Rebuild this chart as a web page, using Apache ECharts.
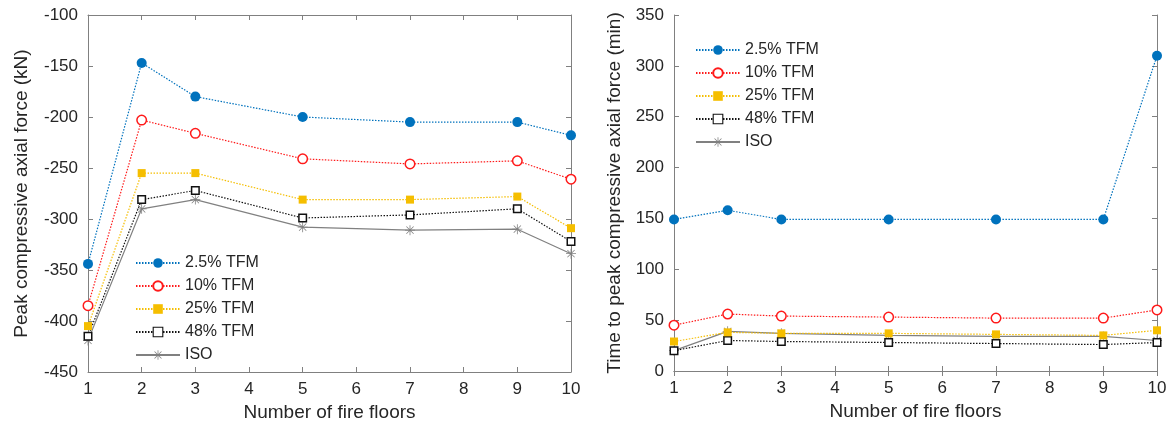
<!DOCTYPE html>
<html>
<head>
<meta charset="utf-8">
<script src="https://cdn.jsdelivr.net/npm/echarts@6/dist/echarts.min.js"></script>
<style>
  html, body { margin: 0; padding: 0; background: #fff; }
  #chart { width: 1171px; height: 429px; }
</style>
</head>
<body>
<div id="chart"></div>
<script>
// Number of fire floors (x positions shared by both panels)
const floors = [1, 2, 3, 5, 7, 9, 10];
const seriesNames = ['2.5% TFM', '10% TFM', '25% TFM', '48% TFM', 'ISO'];

// Peak compressive axial force (kN)
const force_2_5 = [-344, -147, -180, -200, -205, -205, -218];
const force_10  = [-385, -203, -216, -241, -246, -243, -261];
const force_25  = [-405, -255, -255, -281, -281, -278, -309];
const force_48  = [-415, -281, -272, -299, -296, -290, -322];
const force_iso = [-419, -290, -281, -308, -311, -310, -334];

// Time to peak compressive axial force (min)
const time_2_5 = [149, 158, 149, 149, 149, 149, 310];
const time_10  = [45, 56, 54, 53, 52, 52, 60];
const time_25  = [29, 38, 37, 37, 36, 35, 40];
const time_48  = [20, 30, 29, 28, 27, 26, 28];
const time_iso = [20, 39, 37, 35, 34, 34, 30];

const xTicks = [1, 2, 3, 4, 5, 6, 7, 8, 9, 10];
const forceTicks = [-450, -400, -350, -300, -250, -200, -150, -100];
const timeTicks = [0, 50, 100, 150, 200, 250, 300, 350];

const FONT = 'Liberation Sans, Arial, Helvetica, sans-serif';
const TEXT = '#262626';
const AXIS = '#808080';

// Asterisk marker drawn as four thin bars
const STAR = 'path://M0 9.2 L20 9.2 L20 10.8 L0 10.8 Z M9.2 0 L10.8 0 L10.8 20 L9.2 20 Z ' +
  'M2.2 3.3 L3.3 2.2 L17.8 16.7 L16.7 17.8 Z M16.7 2.2 L17.8 3.3 L3.3 17.8 L2.2 16.7 Z';

const styles = [
  { color: '#0072BD', symbol: 'circle', size: 10, fill: '#0072BD', border: 0, dash: [1.5, 1.5] },
  { color: '#FF1A1A', symbol: 'circle', size: 9.5, fill: '#ffffff', border: 1.5, dash: [1.5, 1.5] },
  { color: '#F5BE00', symbol: 'rect', size: 8, fill: '#F5BE00', border: 0, dash: [1.5, 1.5] },
  { color: '#111111', symbol: 'rect', size: 7.5, fill: '#ffffff', border: 1.5, dash: [1.5, 1.5] },
  { color: '#808080', symbol: STAR, size: 10, fill: '#808080', border: 0, dash: 'solid' }
];

function pairs(ys) { return floors.map((x, i) => [x, ys[i]]); }

function makeSeries(values, gridIdx) {
  return values.map((ys, k) => {
    const s = styles[k];
    return {
      name: seriesNames[k],
      type: 'line',
      xAxisIndex: gridIdx * 2,
      yAxisIndex: gridIdx * 2,
      data: pairs(ys),
      symbol: s.symbol,
      symbolSize: s.size,
      showAllSymbol: true,
      lineStyle: { color: s.color, width: 1.2, type: s.dash },
      itemStyle: { color: s.fill, borderColor: s.color, borderWidth: s.border },
      emphasis: { disabled: true },
      z: 10 - k
    };
  });
}

function xAxes(gridIdx) {
  const base = {
    type: 'value', gridIndex: gridIdx, min: 1, max: 10, interval: 1,
    axisLine: { show: true, lineStyle: { color: AXIS, width: 1 } },
    axisTick: { show: true, inside: true, length: 5, lineStyle: { color: AXIS } },
    splitLine: { show: false }
  };
  return [
    Object.assign({}, base, {
      position: 'bottom',
      name: 'Number of fire floors',
      nameLocation: 'middle',
      nameGap: 31,
      nameTextStyle: { fontFamily: FONT, fontSize: 19, color: TEXT },
      axisLabel: { fontFamily: FONT, fontSize: 17, color: TEXT, margin: 9,
        formatter: v => xTicks.includes(v) ? String(v) : '' }
    }),
    Object.assign({}, base, { position: 'top', axisLabel: { show: false } })
  ];
}

function yAxes(gridIdx, min, max, ticks, name, gap) {
  const base = {
    type: 'value', gridIndex: gridIdx, min: min, max: max, interval: 50,
    axisLine: { show: true, lineStyle: { color: AXIS, width: 1 } },
    axisTick: { show: true, inside: true, length: 5, lineStyle: { color: AXIS } },
    splitLine: { show: false }
  };
  return [
    Object.assign({}, base, {
      position: 'left',
      name: name,
      nameLocation: 'middle',
      nameGap: gap,
      nameTextStyle: { fontFamily: FONT, fontSize: 19, color: TEXT },
      axisLabel: { fontFamily: FONT, fontSize: 17, color: TEXT, margin: 10,
        formatter: v => ticks.includes(v) ? String(v) : '' }
    }),
    Object.assign({}, base, { position: 'right', axisLabel: { show: false } })
  ];
}

// Legend entries; the open square gets a lighter outline in the key
const legendData = seriesNames.map((n, k) =>
  k === 3 ? { name: n, itemStyle: { borderWidth: 1.1 } } : { name: n });

const legendBase = {
  orient: 'vertical',
  data: legendData,
  itemWidth: 44,
  itemHeight: 12,
  itemGap: 7,
  textStyle: { fontFamily: FONT, fontSize: 16, color: TEXT },
  selectedMode: false
};

const chart = echarts.init(document.getElementById('chart'), null, { renderer: 'canvas' });
chart.setOption({
  animation: false,
  backgroundColor: '#ffffff',
  grid: [
    { left: 88, top: 15, width: 483, height: 357 },
    { left: 674, top: 15, width: 483, height: 356 }
  ],
  xAxis: [...xAxes(0), ...xAxes(1)],
  yAxis: [
    ...yAxes(0, -450, -100, forceTicks, 'Peak compressive axial force (kN)', 57),
    ...yAxes(1, 0, 350, timeTicks, 'Time to peak compressive axial force (min)', 50)
  ],
  legend: [
    Object.assign({}, legendBase, { left: 130, top: 250 }),
    Object.assign({}, legendBase, { left: 690, top: 37 })
  ],
  series: [
    ...makeSeries([force_2_5, force_10, force_25, force_48, force_iso], 0),
    ...makeSeries([time_2_5, time_10, time_25, time_48, time_iso], 1)
  ]
});
</script>
</body>
</html>
